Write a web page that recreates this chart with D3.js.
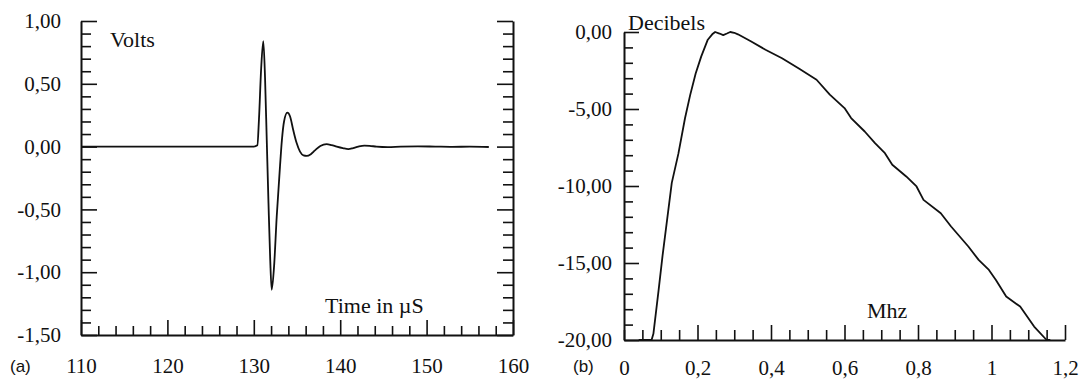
<!DOCTYPE html>
<html>
<head>
<meta charset="utf-8">
<script src="https://cdn.jsdelivr.net/npm/d3@7"></script>
<style>
  body { margin: 0; background: #fff; }
  svg text { fill: #111; }
  svg text.serif { font-family: "Liberation Serif", "DejaVu Serif", "Times New Roman", Times, serif !important; }
  svg text.sans { font-family: "Liberation Sans", "DejaVu Sans", Arial, sans-serif !important; }
</style>
</head>
<body>
<div id="chart"></div>
<script>
// (a) waveform: time in microseconds vs volts
var timeUs = [110, 125, 130, 130.41, 130.6, 130.85, 131.1, 131.3, 131.5, 131.7, 131.9, 132.07,
  132.35, 132.65, 133.03, 133.25, 133.5, 133.88, 134.2, 134.57, 134.95, 135.35, 135.75, 136.12,
  136.6, 137.08, 137.7, 138.43, 139, 139.6, 140.3, 140.94, 141.5, 142.1, 142.8, 143.4, 144.2,
  145.5, 147, 149, 151, 153, 155, 157.2];
var volts = [0, 0, 0, 0.01, 0.22, 0.62, 0.84, 0.55, 0.05, -0.45, -0.9, -1.14,
  -0.95, -0.56, -0.16, 0.05, 0.2, 0.27, 0.24, 0.13, 0.03, -0.04, -0.07, -0.074,
  -0.06, -0.03, 0.005, 0.02, 0.012, 0, -0.012, -0.02, -0.012, 0, 0.008, 0.006, 0,
  -0.004, 0, 0.002, 0, -0.002, 0, -0.003];

// (b) spectrum: MHz vs decibels
var freqMhz = [0.04, 0.075, 0.08, 0.094, 0.105, 0.13, 0.148, 0.166, 0.18, 0.195, 0.21, 0.228,
  0.24, 0.248, 0.26, 0.27, 0.28, 0.289, 0.3, 0.31, 0.345, 0.385, 0.43, 0.478, 0.524, 0.56,
  0.6, 0.618, 0.655, 0.683, 0.71, 0.73, 0.768, 0.796, 0.815, 0.862, 0.89, 0.937, 0.965,
  0.993, 1.012, 1.04, 1.078, 1.116, 1.15, 1.16];
var decibels = [-20, -20, -19.6, -16.8, -14.5, -9.8, -7.9, -5.6, -4.1, -2.7, -1.6, -0.5,
  -0.15, 0, -0.1, -0.2, -0.1, 0, -0.05, -0.15, -0.6, -1.15, -1.7, -2.4, -3.1, -4.07,
  -4.94, -5.59, -6.46, -7.22, -7.87, -8.62, -9.38, -10.03, -10.9, -11.77, -12.63, -13.93, -14.8,
  -15.45, -16.1, -17.18, -17.83, -19.13, -20, -20];

// tick labels
var voltTicks = [1, 0.5, 0, -0.5, -1, -1.5];
var timeTicks = [110, 120, 130, 140, 150, 160];
var dbTicks = [0, -5, -10, -15, -20];
var mhzTicks = [0, 0.2, 0.4, 0.6, 0.8, 1, 1.2];

var W = 1083, H = 379;

var loc = d3.formatLocale({decimal: ",", thousands: ".", grouping: [3], currency: ["", ""], minus: "-"});
var f2 = loc.format(".2f");
var fg = loc.format("~g");

var svg = d3.select("#chart").append("svg")
    .attr("width", W).attr("height", H);

function styleAxis(g) {
    g.attr("font-family", null).attr("font-size", null);
    g.selectAll("path.domain").attr("stroke", "#111").attr("stroke-width", 2);
    g.selectAll(".tick line").attr("stroke", "#111").attr("stroke-width", 1.6);
    g.selectAll("text").attr("class", "serif").attr("fill", "#111").attr("font-size", 21);
}

// ---------- panel (a) ----------
var xA = d3.scaleLinear().domain([110, 160]).range([81, 513]);
var yA = d3.scaleLinear().domain([-1.5, 1]).range([335, 21]);
var gA = svg.append("g");

// minor + major ticks along the bottom
var axA = gA.append("g").attr("transform", `translate(0,${yA(-1.5)})`)
    .call(d3.axisBottom(xA).tickValues(d3.range(110, 160.1, 2)).tickSize(-9).tickSizeOuter(0).tickFormat(""));
axA.selectAll(".tick line").filter(d => d % 10 === 0).attr("y2", -15);
styleAxis(axA);

var labA = gA.append("g").attr("transform", `translate(0,${yA(-1.5)})`)
    .call(d3.axisBottom(xA).tickValues(timeTicks).tickSize(0).tickFormat(d3.format("d")));
labA.select(".domain").remove();
styleAxis(labA);
labA.selectAll("text").attr("y", 38).attr("dy", 0);

// left axis
var ayA = gA.append("g").attr("transform", `translate(${xA(110)},0)`)
    .call(d3.axisRight(yA).tickValues(d3.range(-15, 10.1, 1).map(v => v / 10)).tickSize(10).tickSizeOuter(0).tickFormat(""));
ayA.selectAll(".tick line").filter(d => Math.abs(d * 2 - Math.round(d * 2)) < 1e-6).attr("x2", 16);
styleAxis(ayA);

var lyA = gA.append("g").attr("transform", `translate(${xA(110)},0)`)
    .call(d3.axisLeft(yA).tickValues(voltTicks).tickSize(0).tickPadding(20).tickFormat(f2));
lyA.select(".domain").remove();
styleAxis(lyA);

// right axis, ticks inside
var ryA = gA.append("g").attr("transform", `translate(${xA(160)},0)`)
    .call(d3.axisLeft(yA).tickValues(d3.range(-15, 10.1, 1).map(v => v / 10)).tickSize(10).tickSizeOuter(0).tickFormat(""));
ryA.selectAll(".tick line").filter(d => Math.abs(d * 2 - Math.round(d * 2)) < 1e-6).attr("x2", -16);
styleAxis(ryA);

var waveLine = d3.line()
    .x(d => xA(d[0]))
    .y(d => yA(d[1]))
    .curve(d3.curveMonotoneX);

gA.append("path")
    .datum(d3.zip(timeUs, volts))
    .attr("d", waveLine)
    .attr("fill", "none")
    .attr("stroke", "#111")
    .attr("stroke-width", 1.8);

gA.append("text").attr("class", "serif").attr("x", 110).attr("y", 47).attr("font-size", 22).text("Volts");
gA.append("text").attr("class", "serif").attr("x", 325).attr("y", 313).attr("font-size", 22).text("Time in µS");
gA.append("text").attr("class", "sans").attr("x", 10).attr("y", 372).attr("font-size", 17).text("(a)");

// ---------- panel (b) ----------
var xB = d3.scaleLinear().domain([0, 1.2]).range([624, 1065]);
var yB = d3.scaleLinear().domain([-20, 0]).range([340, 32]);
var gB = svg.append("g");

var axB = gB.append("g").attr("transform", `translate(0,${yB(-20)})`)
    .call(d3.axisBottom(xB).tickValues(d3.range(0, 24.1, 1).map(v => v / 20)).tickSize(-10).tickSizeOuter(0).tickFormat(""));
axB.selectAll(".tick line").filter(d => Math.abs(d * 5 - Math.round(d * 5)) < 1e-6 && d > 0).attr("y2", -15);
styleAxis(axB);

var labB = gB.append("g").attr("transform", `translate(0,${yB(-20)})`)
    .call(d3.axisBottom(xB).tickValues(mhzTicks).tickSize(0).tickFormat(fg));
labB.select(".domain").remove();
styleAxis(labB);
labB.selectAll("text").attr("y", 35).attr("dy", 0);

var ayB = gB.append("g").attr("transform", `translate(${xB(0)},0)`)
    .call(d3.axisRight(yB).tickValues(d3.range(-20, 0.1, 1)).tickSize(9).tickSizeOuter(0).tickFormat(""));
ayB.selectAll(".tick line").filter(d => d % 5 === 0).attr("x2", 15);
styleAxis(ayB);

var lyB = gB.append("g").attr("transform", `translate(${xB(0)},0)`)
    .call(d3.axisLeft(yB).tickValues(dbTicks).tickSize(0).tickPadding(12).tickFormat(f2));
lyB.select(".domain").remove();
styleAxis(lyB);

var specLine = d3.line()
    .x(d => xB(d[0]))
    .y(d => yB(d[1]));

gB.append("path")
    .datum(d3.zip(freqMhz, decibels))
    .attr("d", specLine)
    .attr("fill", "none")
    .attr("stroke", "#111")
    .attr("stroke-width", 1.8)
    .attr("stroke-linejoin", "round");

gB.append("text").attr("class", "serif").attr("x", 628).attr("y", 30).attr("font-size", 22).text("Decibels");
gB.append("text").attr("class", "serif").attr("x", 867).attr("y", 318).attr("font-size", 22).text("Mhz");
gB.append("text").attr("class", "sans").attr("x", 573).attr("y", 372).attr("font-size", 17).text("(b)");
</script>
</body>
</html>
